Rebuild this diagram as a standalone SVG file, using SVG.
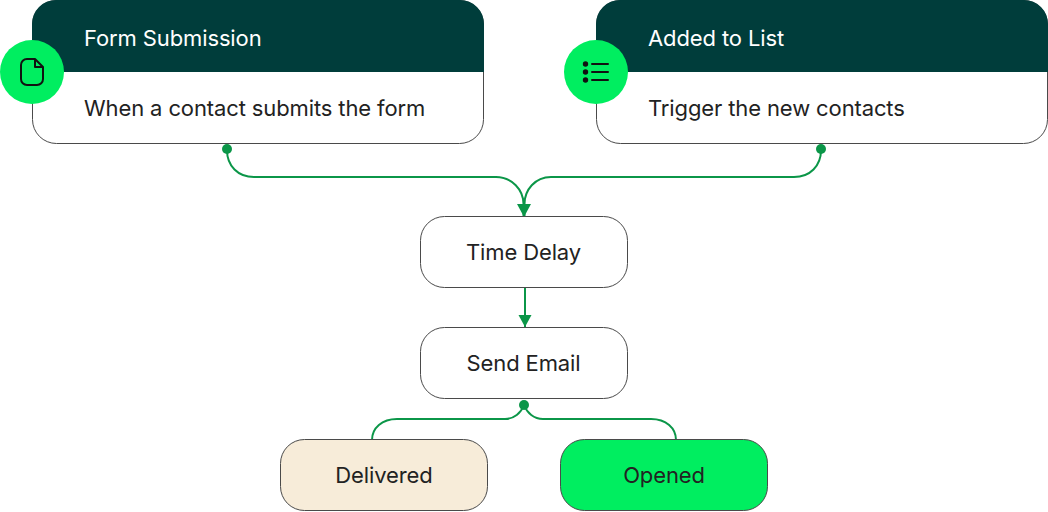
<svg xmlns="http://www.w3.org/2000/svg" width="1048" height="512" viewBox="0 0 1048 512">
<defs>
<style>
text{font-family:"Inter","Noto Sans","Liberation Sans",sans-serif;font-size:22px;fill:#222222;letter-spacing:-0.12px}
.w{fill:#ffffff}
.box{stroke:#4a4a4a;stroke-width:1;fill:#ffffff}
.hd{fill:#003d3b}
.c{fill:#00ee60}
.con{fill:none;stroke:#0b9648;stroke-width:2}
.dot{fill:#0b9648}
.ic{fill:none;stroke:#111;stroke-width:2;stroke-linecap:round;stroke-linejoin:round}
.m{text-anchor:middle}
</style>
<marker id="arr" markerUnits="userSpaceOnUse" markerWidth="13" markerHeight="14" refX="12.500" refY="7" orient="auto" viewBox="0 0 13 14"><path d="M0.500 0.500V13.500L12.500 7Z" fill="#0b9648"/></marker>
</defs>
<rect width="1048" height="512" fill="#fff"/>
<g id="connectors">
<path class="con" d="M227 149V150C227 166 238 177 254 177H496C512 177 523.500 190 523.500 204V216" marker-end="url(#arr)"/>
<path class="con" d="M821 149V150C821 166 810 177 794 177H551C535 177 524.500 190 524.500 204V216" marker-end="url(#arr)"/>
<path class="con" d="M525 288V327" marker-end="url(#arr)"/>
<path class="con" d="M524 405C521 413 514 419 505 419H397C382 419 372 428 372 440"/>
<path class="con" d="M524 405C527 413 534 419 543 419H651C666 419 676 428 676 440"/>
<circle class="dot" cx="227" cy="149" r="5"/>
<circle class="dot" cx="821" cy="149" r="5"/>
<circle class="dot" cx="524" cy="405" r="5"/>
</g>
<g id="form-submission">
<rect class="box" x="32.500" y="0.500" width="451" height="143" rx="24"/>
<path class="hd" d="M32 72V24A24 24 0 0 1 56 0H460A24 24 0 0 1 484 24V72Z"/>
<text class="w" x="84" y="46">Form Submission</text>
<text x="84" y="116">When a contact submits the form</text>
<circle class="c" cx="32" cy="72" r="32"/>
<path class="ic" d="M35 59H27A6 6 0 0 0 21 65V79A6 6 0 0 0 27 85H37A6 6 0 0 0 43 79V67ZM35 59V67H43"/>
</g>
<g id="added-to-list">
<rect class="box" x="596.500" y="0.500" width="451" height="143" rx="24"/>
<path class="hd" d="M596 72V24A24 24 0 0 1 620 0H1024A24 24 0 0 1 1048 24V72Z"/>
<text class="w" x="648" y="46">Added to List</text>
<text x="648" y="116">Trigger the new contacts</text>
<circle class="c" cx="596" cy="72" r="32"/>
<circle cx="585.500" cy="64" r="2.700" fill="#111"/>
<circle cx="585.500" cy="72" r="2.700" fill="#111"/>
<circle cx="585.500" cy="80" r="2.700" fill="#111"/>
<path class="ic" d="M592 64H608M592 72H608M592 80H608"/>
</g>
<g id="time-delay">
<rect class="box" x="420.500" y="216.500" width="207" height="71" rx="24"/>
<text class="m" x="523.500" y="260">Time Delay</text>
</g>
<g id="send-email">
<rect class="box" x="420.500" y="327.500" width="207" height="71" rx="24"/>
<text class="m" x="523.500" y="371">Send Email</text>
</g>
<g id="delivered">
<rect class="box" x="280.500" y="439.500" width="207" height="71" rx="24" style="fill:#f7ecd9"/>
<text class="m" x="384" y="483">Delivered</text>
</g>
<g id="opened">
<rect class="box" x="560.500" y="439.500" width="207" height="71" rx="24" style="fill:#00ee60"/>
<text class="m" x="664" y="483">Opened</text>
</g>
</svg>
